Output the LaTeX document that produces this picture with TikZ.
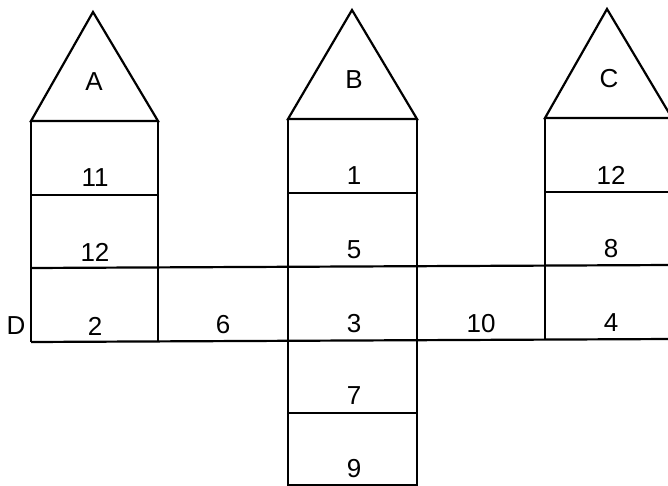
\documentclass[tikz,border=0pt]{standalone}
\usepackage{fontspec}
\setmainfont{Liberation Sans}
\begin{document}
\begin{tikzpicture}[x=1pt,y=-1pt,
  wall/.style={line width=2.2pt,line join=miter},
  lbl/.style={font=\fontsize{26}{28}\selectfont,inner sep=0pt}]
\useasboundingbox (0,0) rectangle (668,486);
% tower A
\draw[wall] (31,121) -- (93,12) -- (158,121) -- cycle;
\draw[wall] (31,121) -- (31,342) (158,121) -- (158,342);
\draw[wall] (31,195) -- (158,195);
% tower B
\draw[wall] (288,119) -- (352,10) -- (417,119) -- cycle;
\draw[wall] (288,119) -- (288,486) (417,119) -- (417,486);
\draw[wall] (288,193) -- (417,193);
\draw[wall] (288,413) -- (417,413);
\draw[wall] (288,485) -- (417,485);
% tower C
\draw[wall] (545,118) -- (607,9) -- (672,118) -- cycle;
\draw[wall] (545,118) -- (545,340);
\draw[wall] (545,192) -- (672,192);
% row D
\draw[wall] (31,268) -- (672,265);
\draw[wall] (31,342) -- (672,339);
% labels
\node[lbl] (lA) at (94,82) {A};
\node[lbl] (lB) at (354,80) {B};
\node[lbl] (lC) at (609,79) {C};
\node[lbl] (a1) at (95,178) {11};
\node[lbl] (a2) at (95,252) {12};
\node[lbl] (a3) at (95,326) {2};
\node[lbl] (b1) at (354,176) {1};
\node[lbl] (b2) at (354,250) {5};
\node[lbl] (b3) at (354,324) {3};
\node[lbl] (b4) at (354,396) {7};
\node[lbl] (b5) at (354,469) {9};
\node[lbl] (c1) at (611,175) {12};
\node[lbl] (c2) at (611,249) {8};
\node[lbl] (c3) at (611,323) {4};
\node[lbl] (d6) at (223,325) {6};
\node[lbl] (d10) at (481,324) {10};
\node[lbl] (dD) at (16,326) {D};
\end{tikzpicture}
\end{document}
